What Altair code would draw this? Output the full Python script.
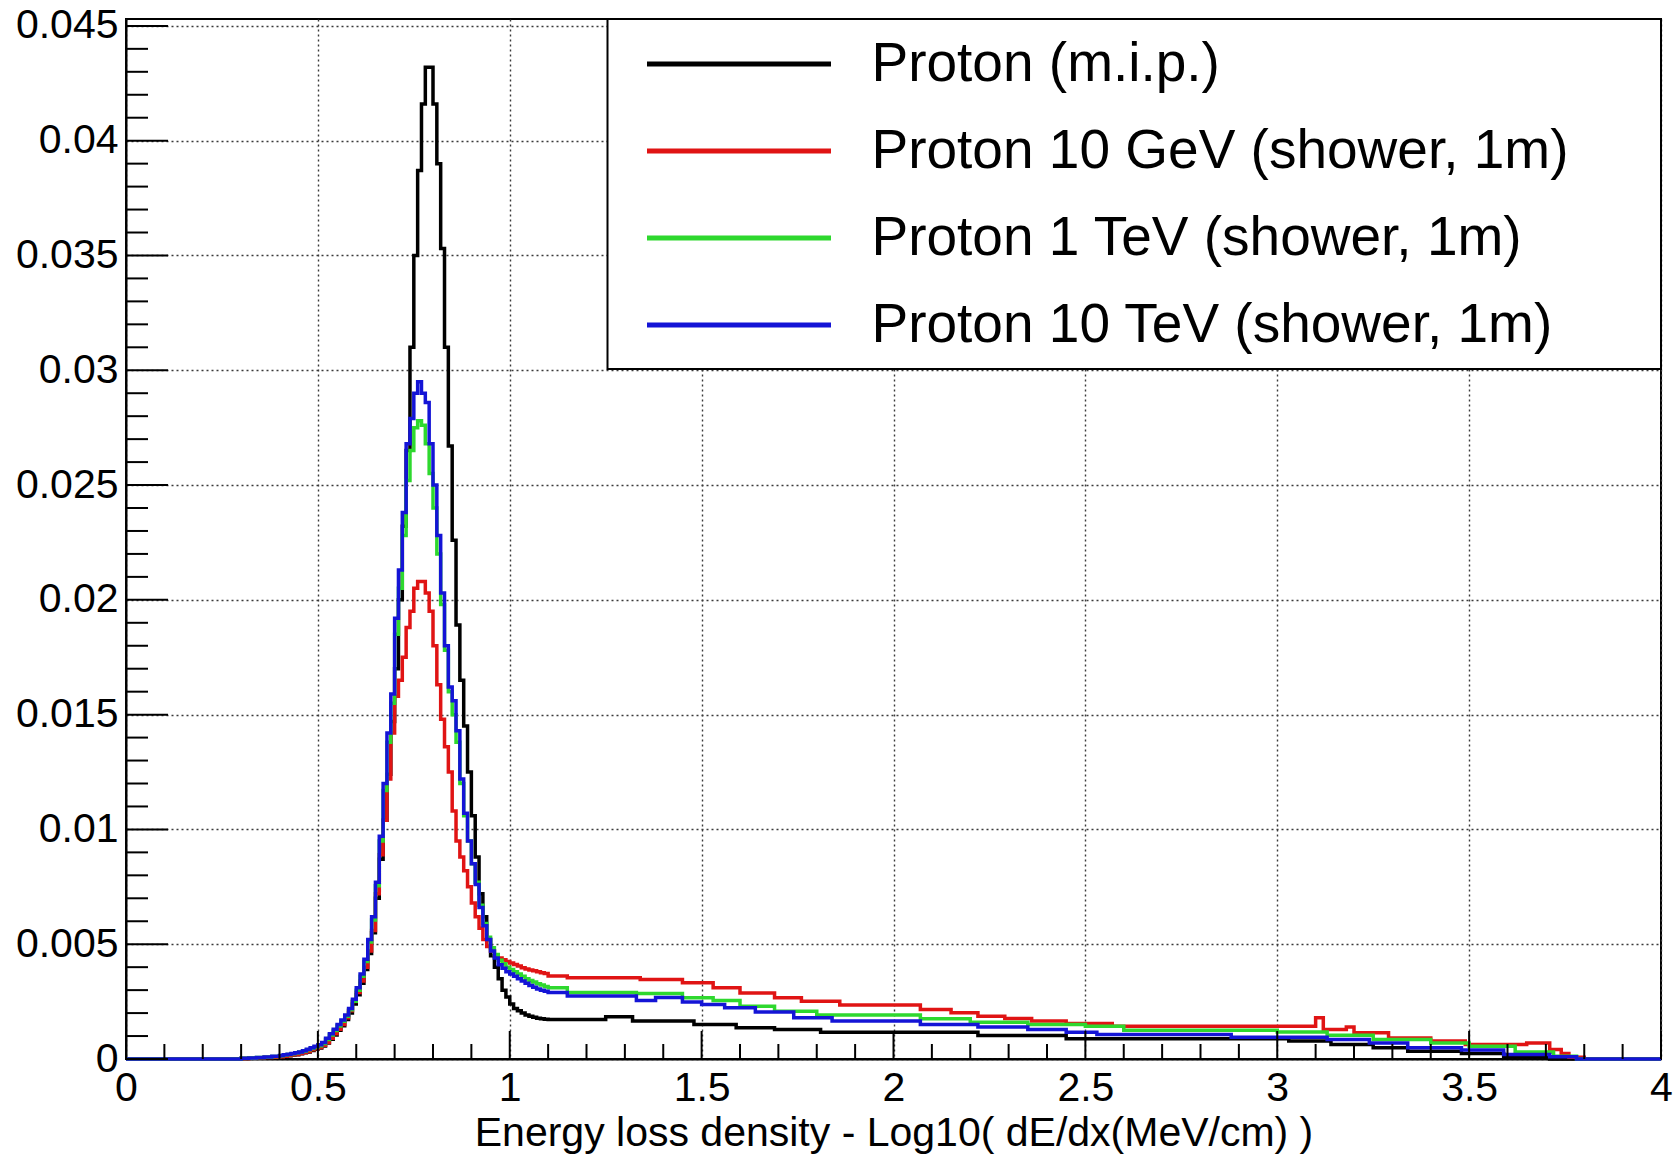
import altair as alt
import pandas as pd

# ---------------- data ----------------
series_names = [
    "Proton (m.i.p.)",
    "Proton 10 GeV (shower, 1m)",
    "Proton 1 TeV (shower, 1m)",
    "Proton 10 TeV (shower, 1m)",
]
series_colors = ["#000000", "#e01414", "#2ed82e", "#1414d6"]

# bin edges: low region, core (0.01 wide bins 0.40-1.10)
head_edges = [0.0, 0.30, 0.32, 0.34, 0.36, 0.38, 0.40]
core_edges = [round(0.40 + 0.01 * i, 2) for i in range(71)]

mip_head = [0.0, 0.00002, 0.00003, 0.00004, 0.00006, 0.00008]
gev10_head = [0.0, 0.00002, 0.00003, 0.00005, 0.00007, 0.00008]
tev1_head = [0.0, 0.00003, 0.00004, 0.00006, 0.00008, 0.00011]
tev10_head = [0.0, 0.00003, 0.00004, 0.00006, 0.00009, 0.00012]

mip_core = [
    0.00010, 0.00012, 0.00014, 0.00017, 0.00019, 0.00023, 0.00027, 0.00031, 0.00037, 0.00042,
    0.00048, 0.00057, 0.00070, 0.00086, 0.00105, 0.00125, 0.00145, 0.00172, 0.00200, 0.00240,
    0.00280, 0.00330, 0.00390, 0.00460, 0.00550, 0.00700, 0.00870, 0.01040, 0.01240, 0.01470,
    0.01700, 0.02000, 0.02320, 0.02650, 0.03100, 0.03500, 0.03870, 0.04160, 0.04320, 0.04320,
    0.04160, 0.03900, 0.03530, 0.03100, 0.02670, 0.02260, 0.01890, 0.01650, 0.01450, 0.01250,
    0.01060, 0.00880, 0.00720, 0.00620, 0.00520, 0.00450, 0.00400, 0.00350, 0.00300, 0.00270,
    0.00240, 0.00220, 0.00210, 0.00200, 0.00192, 0.00186, 0.00182, 0.00178, 0.00175, 0.00173,
]
gev10_core = [
    0.00010, 0.00012, 0.00015, 0.00018, 0.00020, 0.00024, 0.00028, 0.00033, 0.00040, 0.00045,
    0.00050, 0.00060, 0.00072, 0.00090, 0.00110, 0.00130, 0.00150, 0.00180, 0.00210, 0.00250,
    0.00290, 0.00340, 0.00400, 0.00470, 0.00560, 0.00720, 0.00890, 0.01040, 0.01220, 0.01420,
    0.01580, 0.01650, 0.01750, 0.01880, 0.01950, 0.02050, 0.02080, 0.02080, 0.02030, 0.01950,
    0.01800, 0.01630, 0.01480, 0.01360, 0.01250, 0.01080, 0.00950, 0.00880, 0.00820, 0.00750,
    0.00680, 0.00620, 0.00570, 0.00520, 0.00490, 0.00470, 0.00452, 0.00440, 0.00432, 0.00425,
    0.00418, 0.00412, 0.00405, 0.00398, 0.00392, 0.00388, 0.00384, 0.00380, 0.00376, 0.00372,
]
tev1_core = [
    0.00014, 0.00017, 0.00020, 0.00023, 0.00026, 0.00030, 0.00034, 0.00040, 0.00046, 0.00052,
    0.00058, 0.00068, 0.00085, 0.00104, 0.00124, 0.00144, 0.00164, 0.00186, 0.00214, 0.00252,
    0.00300, 0.00360, 0.00425, 0.00510, 0.00605, 0.00755, 0.00950, 0.01170, 0.01380, 0.01550,
    0.01850, 0.02050, 0.02280, 0.02520, 0.02650, 0.02750, 0.02780, 0.02760, 0.02680, 0.02550,
    0.02400, 0.02200, 0.01980, 0.01780, 0.01600, 0.01500, 0.01380, 0.01200, 0.01060, 0.00950,
    0.00850, 0.00770, 0.00670, 0.00590, 0.00530, 0.00485, 0.00455, 0.00430, 0.00415, 0.00400,
    0.00390, 0.00380, 0.00370, 0.00360, 0.00350, 0.00342, 0.00335, 0.00328, 0.00322, 0.00316,
]
tev10_core = [
    0.00015, 0.00018, 0.00021, 0.00024, 0.00027, 0.00031, 0.00036, 0.00042, 0.00049, 0.00055,
    0.00062, 0.00072, 0.00090, 0.00110, 0.00130, 0.00150, 0.00170, 0.00192, 0.00220, 0.00260,
    0.00310, 0.00370, 0.00435, 0.00520, 0.00620, 0.00770, 0.00970, 0.01200, 0.01420, 0.01590,
    0.01920, 0.02130, 0.02380, 0.02680, 0.02790, 0.02900, 0.02950, 0.02900, 0.02860, 0.02680,
    0.02500, 0.02280, 0.02030, 0.01800, 0.01620, 0.01560, 0.01430, 0.01220, 0.01070, 0.00950,
    0.00850, 0.00760, 0.00660, 0.00580, 0.00520, 0.00470, 0.00440, 0.00410, 0.00395, 0.00380,
    0.00370, 0.00360, 0.00350, 0.00340, 0.00330, 0.00320, 0.00312, 0.00305, 0.00300, 0.00295,
]

# tails (1.10 -> 4.0), per-series step edges and values
mip_tail_edges = [1.10, 1.25, 1.32, 1.48, 1.59, 1.69, 1.81, 2.22, 2.45, 3.03, 3.14, 3.25,
                  3.34, 3.48, 3.59, 3.71, 4.00]
mip_tail = [0.00172, 0.00184, 0.00165, 0.00150, 0.00136, 0.00128, 0.00116, 0.00102, 0.00088,
            0.00078, 0.00063, 0.00049, 0.00034, 0.00024, 0.00010, 0.0]

gev10_tail_edges = [1.10, 1.15, 1.34, 1.45, 1.53, 1.60, 1.69, 1.76, 1.86, 2.07, 2.15, 2.22,
                    2.29, 2.36, 2.45, 2.57, 3.10, 3.12, 3.18, 3.20, 3.29, 3.40, 3.49, 3.65,
                    3.71, 3.74, 3.76, 3.80, 4.00]
gev10_tail = [0.00362, 0.00354, 0.00346, 0.00332, 0.00310, 0.00288, 0.00267, 0.00252, 0.00235,
              0.00216, 0.00201, 0.00186, 0.00176, 0.00165, 0.00155, 0.00143, 0.00180, 0.00128,
              0.00139, 0.00114, 0.00092, 0.00078, 0.00063, 0.00070, 0.00041, 0.00024, 0.00008,
              0.0]

tev1_tail_edges = [1.10, 1.15, 1.33, 1.45, 1.53, 1.60, 1.69, 1.80, 2.07, 2.20, 2.35, 2.50,
                   2.60, 3.00, 3.13, 3.25, 3.40, 3.50, 3.62, 3.72, 3.78, 4.00]
tev1_tail = [0.00310, 0.00290, 0.00285, 0.00267, 0.00255, 0.00230, 0.00208, 0.00192, 0.00175,
             0.00160, 0.00150, 0.00143, 0.00125, 0.00118, 0.00103, 0.00085, 0.00070, 0.00055,
             0.00030, 0.00012, 0.0]

tev10_tail_edges = [1.10, 1.15, 1.33, 1.38, 1.45, 1.50, 1.56, 1.64, 1.74, 1.84, 2.07, 2.22,
                    2.35, 2.45, 2.53, 2.88, 3.13, 3.24, 3.34, 3.48, 3.59, 3.71, 3.78, 4.00]
tev10_tail = [0.00290, 0.00274, 0.00255, 0.00268, 0.00248, 0.00237, 0.00223, 0.00205, 0.00180,
              0.00165, 0.00150, 0.00139, 0.00128, 0.00117, 0.00107, 0.00095, 0.00085, 0.00070,
              0.00049, 0.00039, 0.00020, 0.00010, 0.0]

# axis ticks
x_major = [0, 0.5, 1, 1.5, 2, 2.5, 3, 3.5, 4]
x_minor = [round(0.1 * i, 1) for i in range(41) if i % 5 != 0]
y_major = [0, 0.005, 0.01, 0.015, 0.02, 0.025, 0.03, 0.035, 0.04, 0.045]
y_minor = [round(0.001 * i, 3) for i in range(46) if i % 5 != 0]

x_title = "Energy loss density - Log10( dE/dx(MeV/cm) )"

# ---------------- build table ----------------
series_parts = [
    (mip_head, mip_core, mip_tail_edges, mip_tail),
    (gev10_head, gev10_core, gev10_tail_edges, gev10_tail),
    (tev1_head, tev1_core, tev1_tail_edges, tev1_tail),
    (tev10_head, tev10_core, tev10_tail_edges, tev10_tail),
]
rows = []
for name, (h, c, te, t) in zip(series_names, series_parts):
    edges = head_edges + core_edges[1:] + te[1:]
    vals = h + c + t
    assert len(edges) == len(vals) + 1, name
    for i, v in enumerate(vals):
        rows.append({"series": name, "x": edges[i], "y": v, "idx": i})
    rows.append({"series": name, "x": edges[-1], "y": vals[-1], "idx": len(vals)})
df = pd.DataFrame(rows)

FONT = "Liberation Sans"
W, H = 1535, 1040
xscale = alt.Scale(domain=[0, 4], nice=False, zero=False)
yscale = alt.Scale(domain=[0, 0.0453], nice=False, zero=False)
cscale = alt.Scale(domain=series_names, range=series_colors)

grid_kw = dict(grid=True, gridDash=[2, 3], gridColor="#3a3a3a", gridWidth=1.4)

x_axis = alt.Axis(values=x_major, format="~g", ticks=False, domainColor="black",
                  domainWidth=2, labelFontSize=41, labelFont=FONT, labelColor="black",
                  labelPadding=9, labelFlush=False, labelOverlap=False,
                  title=x_title, titleFont=FONT, titleFontSize=41, titleFontWeight="normal",
                  titleColor="black", titleY=74, titleBaseline="middle", **grid_kw)
y_axis = alt.Axis(values=y_major, format="~g", ticks=False, domainColor="black",
                  domainWidth=2, labelFontSize=41, labelFont=FONT, labelColor="black",
                  labelPadding=8, labelFlush=False, labelOverlap=False, title=None, **grid_kw)

legend = alt.Legend(title=None, orient="none", legendX=481.5, legendY=0, padding=37,
                    symbolType="stroke", symbolSize=33856, symbolStrokeWidth=5,
                    labelFontSize=55, labelFont=FONT, labelColor="black", labelOffset=38,
                    clipHeight=16, rowPadding=32, labelLimit=2000)

X = alt.X("x:Q", scale=xscale, axis=x_axis, title=x_title)
Y = alt.Y("y:Q", scale=yscale, axis=y_axis, title=None)

layers = []
for name in series_names:
    layers.append(
        alt.Chart(df).transform_filter(alt.datum.series == name).mark_line(
            interpolate="step-after", strokeWidth=3.5).encode(
            x=X, y=Y,
            color=alt.Color("series:N", scale=cscale, legend=legend),
            order=alt.Order("idx:Q"),
        )
    )

ytick_major = alt.Chart(pd.DataFrame({"y": y_major})).mark_rule(color="black", strokeWidth=2).encode(
    y=Y, x=alt.value(0), x2=alt.value(42))
ytick_minor = alt.Chart(pd.DataFrame({"y": y_minor})).mark_rule(color="black", strokeWidth=2).encode(
    y=Y, x=alt.value(0), x2=alt.value(22))
xtick_major = alt.Chart(pd.DataFrame({"x": x_major})).mark_rule(color="black", strokeWidth=2).encode(
    x=X, y=alt.value(H - 28), y2=alt.value(H))
xtick_minor = alt.Chart(pd.DataFrame({"x": x_minor})).mark_rule(color="black", strokeWidth=2).encode(
    x=X, y=alt.value(H - 15), y2=alt.value(H))

legend_box = alt.Chart(pd.DataFrame({"b": [0]})).mark_rect(
    fill="white", stroke="black", strokeWidth=2).encode(
    x=alt.value(481.5), x2=alt.value(W), y=alt.value(0), y2=alt.value(350))

chart = alt.layer(*layers, ytick_minor, ytick_major, xtick_minor, xtick_major, legend_box).properties(
    width=W, height=H,
    padding={"left": 126, "top": 19, "right": 17, "bottom": 97},
    autosize=alt.AutoSizeParams(type="none"),
    background="white",
).configure_view(stroke="black", strokeWidth=2)

chart.save("out.html", embed_options={"renderer": "svg", "actions": False})
